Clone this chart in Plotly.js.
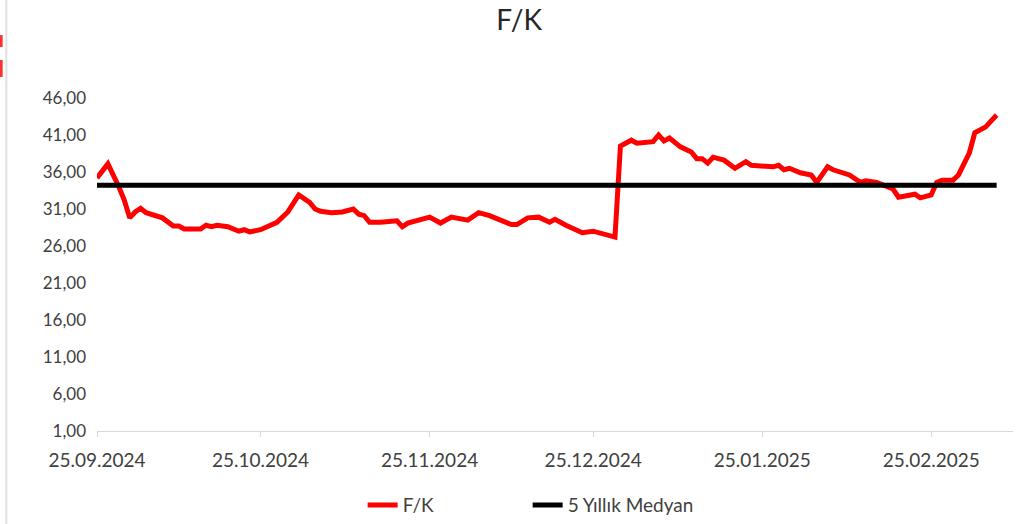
<!DOCTYPE html>
<html>
<head>
<meta charset="utf-8">
<script src="https://cdn.plot.ly/plotly-3.0.1.min.js"></script>
<style>html,body{margin:0;padding:0;background:#fff;}#chart{width:1032px;height:524px;}</style>
</head>
<body>
<div id="chart"></div>
<script>
const dates = [
 "2024-09-25","2024-09-27","2024-09-29","2024-09-30","2024-10-01","2024-10-02","2024-10-03","2024-10-04",
 "2024-10-07","2024-10-09","2024-10-10","2024-10-11","2024-10-14","2024-10-15","2024-10-16","2024-10-17",
 "2024-10-19","2024-10-21","2024-10-22","2024-10-23","2024-10-25","2024-10-28","2024-10-30","2024-11-01",
 "2024-11-03","2024-11-04","2024-11-05","2024-11-07","2024-11-09","2024-11-11","2024-11-12","2024-11-13",
 "2024-11-14","2024-11-16","2024-11-19","2024-11-20","2024-11-21","2024-11-25","2024-11-27","2024-11-29",
 "2024-12-02","2024-12-04","2024-12-06","2024-12-08","2024-12-10","2024-12-11","2024-12-13","2024-12-15",
 "2024-12-17","2024-12-18","2024-12-20","2024-12-23","2024-12-25","2024-12-29","2024-12-30","2025-01-01",
 "2025-01-02","2025-01-05","2025-01-06","2025-01-07","2025-01-08","2025-01-10","2025-01-12","2025-01-13",
 "2025-01-14","2025-01-15","2025-01-16","2025-01-18","2025-01-20","2025-01-22","2025-01-23","2025-01-27",
 "2025-01-28","2025-01-29","2025-01-30","2025-02-01","2025-02-03","2025-02-04","2025-02-06","2025-02-07",
 "2025-02-10","2025-02-12","2025-02-13","2025-02-15","2025-02-17","2025-02-18","2025-02-19","2025-02-21",
 "2025-02-22","2025-02-23","2025-02-25","2025-02-26","2025-02-27","2025-03-01","2025-03-02","2025-03-04",
 "2025-03-05","2025-03-07","2025-03-09"
];
const fk = [
 35.2,37.1,34.0,32.2,29.8,30.6,31.1,30.5,
 29.8,28.7,28.7,28.3,28.3,28.8,28.6,28.8,
 28.6,28.0,28.2,27.9,28.2,29.2,30.6,32.9,
 31.9,31.0,30.7,30.5,30.6,31.0,30.3,30.1,
 29.2,29.2,29.4,28.6,29.1,29.9,29.1,29.9,
 29.5,30.5,30.1,29.5,28.9,28.9,29.8,29.9,
 29.2,29.6,28.8,27.8,28.0,27.2,39.5,40.3,
 39.9,40.1,41.0,40.2,40.6,39.4,38.7,37.8,
 37.8,37.2,38.0,37.6,36.5,37.4,36.9,36.7,
 36.9,36.3,36.5,35.9,35.6,34.6,36.7,36.3,
 35.6,34.6,34.8,34.6,34.0,33.7,32.6,32.9,
 33.0,32.5,32.9,34.6,34.9,34.9,35.6,38.6,
 41.3,42.1,43.7
];
const medianValue = 34.2;
const medianDates = [dates[0], dates[dates.length-1]];
const medianVals = [medianValue, medianValue];
const tickDates = ["2024-09-25","2024-10-25","2024-11-25","2024-12-25","2025-01-25","2025-02-25"];
const tickLabels = ["25.09.2024","25.10.2024","25.11.2024","25.12.2024","25.01.2025","25.02.2025"];
const yTicks = [1,6,11,16,21,26,31,36,41,46];
const yLabels = ["1,00","6,00","11,00","16,00","21,00","26,00","31,00","36,00","41,00","46,00"];

const FONT = "Lato, 'Open Sans', sans-serif";
const traces = [
 {x: dates, y: fk, type: "scatter", mode: "lines", name: "F/K",
  line: {color: "#ff0000", width: 5}},
 {x: medianDates, y: medianVals, type: "scatter", mode: "lines", name: "5 Yıllık Medyan",
  line: {color: "#000000", width: 5}}
];
const layout = {
 width: 1032, height: 524,
 margin: {l: 97, r: 19, t: 98, b: 93, autoexpand: false},
 paper_bgcolor: "#ffffff", plot_bgcolor: "#ffffff",
 font: {family: FONT, size: 16, color: "#404040"},
 title: {text: "F/K", x: 0.503, xanchor: "center", y: 0.962, yanchor: "middle",
  font: {family: FONT, size: 28, color: "#262626"}},
 xaxis: {type: "date", range: ["2024-09-25", "2025-03-12"],
  tickmode: "array", tickvals: tickDates, ticktext: tickLabels,
  showgrid: false, zeroline: false, showline: true, linecolor: "#d9d9d9", linewidth: 1,
  ticks: "outside", ticklen: 5, tickcolor: "#d9d9d9", automargin: false,
  ticklabelstandoff: 7,
  tickfont: {family: FONT, size: 19, color: "#404040"}},
 yaxis: {range: [1, 46], tickmode: "array", tickvals: yTicks, ticktext: yLabels,
  showgrid: false, zeroline: false, showline: false, ticks: "", ticklabelstandoff: 10,
  automargin: false,
  tickfont: {family: FONT, size: 17, color: "#404040"}},
 showlegend: true,
 legend: {orientation: "h", x: 0.29, xanchor: "left", yref: "container", y: 0.036, yanchor: "middle",
  font: {family: FONT, size: 19, color: "#404040"},
  entrywidth: 120, entrywidthmode: "pixels",
  traceorder: "normal"},
 shapes: [
  {type: "line", xref: "paper", yref: "paper", x0: -0.099, x1: -0.099, y0: -0.3, y1: 1.3,
   line: {color: "#e0e0e0", width: 2}},
  {type: "rect", xref: "paper", yref: "paper", x0: -0.106, x1: -0.103, y0: 1.153, y1: 1.189,
   line: {width: 0}, fillcolor: "#ff3030"},
  {type: "rect", xref: "paper", yref: "paper", x0: -0.106, x1: -0.103, y0: 1.063, y1: 1.114,
   line: {width: 0}, fillcolor: "#ff3030"}
 ]
};
Plotly.newPlot("chart", traces, layout, {displayModeBar: false, staticPlot: true});
</script>
</body>
</html>
